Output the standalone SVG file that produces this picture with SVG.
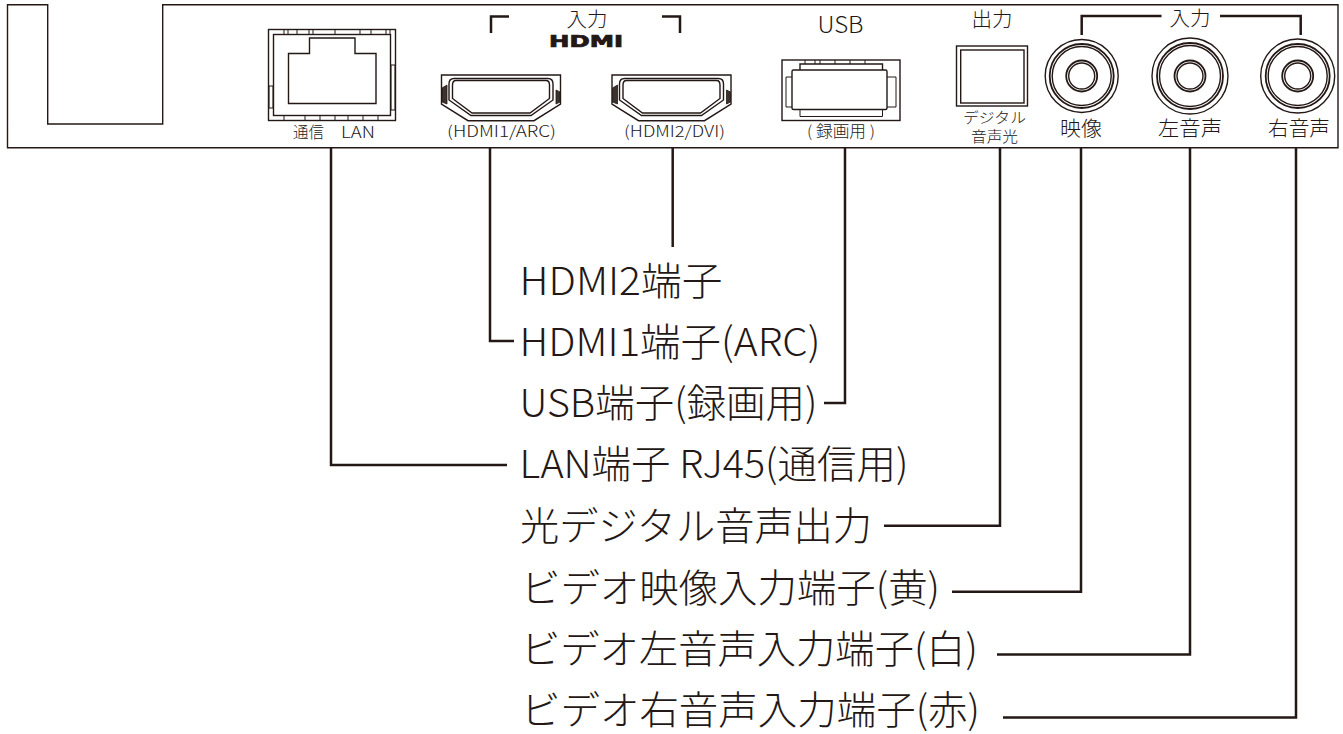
<svg xmlns="http://www.w3.org/2000/svg" width="1343" height="734" viewBox="0 0 1343 734">
<style>
.l{fill:none;stroke:#231815;stroke-width:1.4}
.r{fill:none;stroke:#231815;stroke-width:1.8}
.t{fill:none;stroke:#231815;stroke-width:1}
.d{fill:#3a3330;stroke:#231815;stroke-width:.8}
.c{fill:none;stroke:#231815;stroke-width:2.5}
text{fill:#231815;font-family:"Noto Sans CJK JP","Noto Sans",sans-serif;font-weight:300}
.b{font-size:39px}
.s{font-size:15.5px}
.x{font-size:14.5px}
.m{font-size:20.5px}
</style>
<rect width="1343" height="734" fill="#fff"/>
<g id="panel"><path class="l" d="M7.500 4.700H47.700V124H162.700V4.700H1338V147.700H7.500Z"/></g>
<g id="lan-port">
<rect class="l" x="268.500" y="29.500" width="127" height="91"/>
<rect class="l" x="273.500" y="34.500" width="117" height="81"/>
<path class="l" d="M288.500 53.500H309.500V38H355V53.500H376V103.500H288.500Z"/>
<path class="t" d="M284 30v4M288 30v4M297 30v4M309 30v4M313 30v4M335 30v4M360 30v4M371 30v4M386 30v4M390 30v4M284 116v4M305 116v4M320 116v4M335 116v4M348 116v4M363 116v4M378 116v4"/>
<rect class="t" x="269" y="86" width="4" height="22"/><rect class="t" x="391" y="65" width="4" height="45"/>
<text class="s" x="293" y="137.500" textLength="31" lengthAdjust="spacingAndGlyphs">通信</text>
<text class="s" x="341" y="137.500" textLength="34" lengthAdjust="spacingAndGlyphs">LAN</text>
</g>
<g id="hdmi-header">
<path class="c" d="M491 33V16.500H509"/><path class="c" d="M662 16.500H680V33"/>
<text class="m" x="566.500" y="26.500" textLength="41" lengthAdjust="spacingAndGlyphs">入力</text>
<text x="549" y="46.500" textLength="74" lengthAdjust="spacingAndGlyphs" style="font-family:'DejaVu Sans',sans-serif;font-weight:700;font-size:15px;stroke:#231815;stroke-width:.7">HDMI</text>
</g>
<g id="hdmi1">
<path class="l" d="M441.500 75H560.500V104L534 120.700H468L441.500 104Z"/>
<path class="l" d="M449 84Q449 78.500 454 78.500H548Q553 78.500 553 84V100L531 115.500H471L449 100Z"/>
<path class="l" d="M452.500 85Q452.500 80.500 456 80.500H546Q549.500 80.500 549.500 85V98.500L530 113H472L452.500 98.500Z"/>
<path class="d" d="M442 88L447 85V104L442 102ZM556 90L560 92V102L556 104Z"/>
<text class="s" x="447" y="137" textLength="109" lengthAdjust="spacingAndGlyphs">(HDMI1/ARC)</text>
</g>
<g id="hdmi2">
<path class="l" d="M612 75H731V104L704.500 120.700H638.500L612 104Z"/>
<path class="l" d="M619.500 84Q619.500 78.500 624.500 78.500H718.500Q723.500 78.500 723.500 84V100L701.500 115.500H641.500L619.500 100Z"/>
<path class="l" d="M623 85Q623 80.500 626.500 80.500H716.500Q720 80.500 720 85V98.500L700.500 113H642.500L623 98.500Z"/>
<path class="d" d="M612.500 88L617.500 85V104L612.500 102ZM726.500 90L730.500 92V102L726.500 104Z"/>
<text class="s" x="624" y="137" textLength="101" lengthAdjust="spacingAndGlyphs">(HDMI2/DVI)</text>
</g>
<g id="usb">
<text x="817.500" y="33" textLength="46" lengthAdjust="spacingAndGlyphs" style="font-size:22.500px">USB</text>
<rect class="l" x="782" y="60" width="118" height="60.500"/>
<path class="l" d="M800 70V64H882.500V70"/>
<rect class="l" x="792" y="70" width="95" height="39.500" rx="1.500"/>
<path class="t" d="M800 110V116.500H882.500V110M792 77H786V107H792M887 77H896V107H887M805 60v4M815 60v4M820 60v4M835 60v4M850 60v4M865 60v4"/>
<text class="s" x="807" y="137" textLength="68" lengthAdjust="spacingAndGlyphs">( 録画用 )</text>
</g>
<g id="optical">
<text class="m" x="971.500" y="26.500" textLength="41" lengthAdjust="spacingAndGlyphs">出力</text>
<rect class="l" x="956.500" y="46" width="71" height="60"/>
<rect class="l" x="960.700" y="50" width="63.300" height="53"/>
<text class="x" x="963" y="122.500" textLength="63" lengthAdjust="spacingAndGlyphs">デジタル</text>
<text class="x" x="971" y="141.500" textLength="47" lengthAdjust="spacingAndGlyphs">音声光</text>
</g>
<g id="video">
<circle class="l" cx="1081.700" cy="76" r="36.500"/><circle class="r" cx="1081.700" cy="76" r="32"/><circle class="l" cx="1081.700" cy="76" r="29.500"/>
<circle class="r" cx="1081.700" cy="76" r="15.500"/><circle class="l" cx="1081.700" cy="76" r="13"/>
<text class="m" x="1060" y="135.500" textLength="42" lengthAdjust="spacingAndGlyphs">映像</text>
</g>
<g id="audio-left">
<circle class="l" cx="1190" cy="76" r="38"/><circle class="r" cx="1190" cy="76" r="33"/><circle class="l" cx="1190" cy="76" r="30.500"/>
<circle class="r" cx="1190" cy="76" r="15.500"/><circle class="l" cx="1190" cy="76" r="13"/>
<text class="m" x="1158" y="135.500" textLength="64" lengthAdjust="spacingAndGlyphs">左音声</text>
</g>
<g id="audio-right">
<circle class="l" cx="1297.700" cy="76" r="37"/><circle class="r" cx="1297.700" cy="76" r="32"/><circle class="l" cx="1297.700" cy="76" r="29.500"/>
<circle class="r" cx="1297.700" cy="76" r="15.500"/><circle class="l" cx="1297.700" cy="76" r="13"/>
<text class="m" x="1268" y="135.500" textLength="62" lengthAdjust="spacingAndGlyphs">右音声</text>
</g>
<g id="input-header">
<path class="c" d="M1081.700 35V16H1161.500M1220 16H1300.700V35"/>
<text class="m" x="1169.500" y="26" textLength="41" lengthAdjust="spacingAndGlyphs">入力</text>
</g>
<g id="connectors">
<path class="c" d="M331 148V465H507"/>
<path class="c" d="M490 148V341H514"/>
<path class="c" d="M672.700 148V247"/>
<path class="c" d="M845 148V403H824"/>
<path class="c" d="M1000 148V525.700H884"/>
<path class="c" d="M1081 148V591.700H952"/>
<path class="c" d="M1190 148V654.500H997"/>
<path class="c" d="M1296 148V717.500H1003"/>
</g>
<g id="labels">
<text class="b" x="519.500" y="295" textLength="203" lengthAdjust="spacingAndGlyphs">HDMI2端子</text>
<text class="b" x="519.500" y="356" textLength="301" lengthAdjust="spacingAndGlyphs">HDMI1端子(ARC)</text>
<text class="b" x="519.500" y="417" textLength="298" lengthAdjust="spacingAndGlyphs">USB端子(録画用)</text>
<text class="b" x="519.500" y="478" textLength="389" lengthAdjust="spacingAndGlyphs">LAN端子 RJ45(通信用)</text>
<text class="b" x="520" y="540" textLength="352" lengthAdjust="spacingAndGlyphs">光デジタル音声出力</text>
<text class="b" x="521" y="602" textLength="419" lengthAdjust="spacingAndGlyphs">ビデオ映像入力端子(黄)</text>
<text class="b" x="521" y="663" textLength="457" lengthAdjust="spacingAndGlyphs">ビデオ左音声入力端子(白)</text>
<text class="b" x="521" y="724" textLength="459" lengthAdjust="spacingAndGlyphs">ビデオ右音声入力端子(赤)</text>
</g>
</svg>
